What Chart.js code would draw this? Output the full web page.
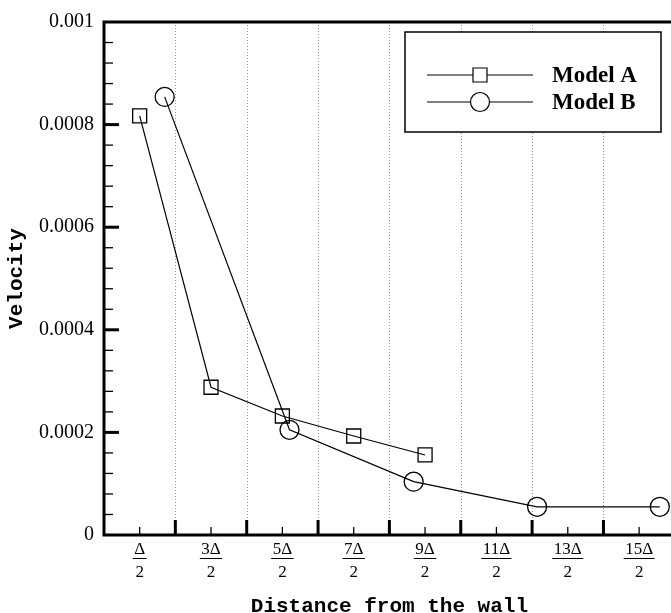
<!DOCTYPE html>
<html><head><meta charset="utf-8">
<script src="https://cdn.jsdelivr.net/npm/chart.js@4/dist/chart.umd.min.js"></script>
<style>html,body{margin:0;padding:0;overflow:hidden;background:#fff;width:671px;height:613px}</style>
</head><body>
<canvas id="c" width="686" height="613" style="display:block;width:686px;height:613px"></canvas>
<script>
// ---- data ----
const seriesNames = ['Model A', 'Model B'];
const modelAX = [0.5, 1.5, 2.5, 3.5, 4.5];
const modelAY = [0.000817, 0.000288, 0.000232, 0.000193, 0.000156];
const modelBX = [0.85, 2.6, 4.34, 6.07, 7.79];
const modelBY = [0.000854, 0.000205, 0.000104, 0.000055, 0.000055];
const xTickValues = [0.5, 1.5, 2.5, 3.5, 4.5, 5.5, 6.5, 7.5];
const xTickNumerators = ['Δ', '3Δ', '5Δ', '7Δ', '9Δ', '11Δ', '13Δ', '15Δ'];
const xTickDenominator = '2';
const yTickValues = [0, 0.0002, 0.0004, 0.0006, 0.0008, 0.001];
const yTickLabels = ['0', '0.0002', '0.0004', '0.0006', '0.0008', '0.001'];
const xTitle = 'Distance from the wall';
const yTitle = 'Velocity';

const SERIF = '"Liberation Serif", "Times New Roman", serif';
const MONO = '"Liberation Mono", "Courier New", monospace';
const xTickFont = {family: SERIF, size: 17, lineHeight: '23px'};

const toPts = (xs, ys) => xs.map((x, i) => ({x: x, y: ys[i]}));

const decor = {
  id: 'decor',
  beforeDatasetsDraw(chart) {
    const {ctx, chartArea: a, scales: {x}} = chart;
    ctx.save();
    ctx.strokeStyle = '#9a9a9a';
    ctx.lineWidth = 1;
    ctx.setLineDash([1, 2]);
    for (let v = 1; v <= 7; v++) {
      const px = Math.round(x.getPixelForValue(v)) + 0.5;
      ctx.beginPath(); ctx.moveTo(px, a.top); ctx.lineTo(px, a.bottom); ctx.stroke();
    }
    ctx.restore();
  },
  afterDraw(chart) {
    const {ctx, chartArea: a, scales: {x, y}} = chart;
    ctx.save();
    ctx.strokeStyle = '#000';
    // inward ticks on x
    for (let i = 1; i < 16; i++) {
      const v = i / 2;
      const px = x.getPixelForValue(v);
      const major = (i % 2 === 0);
      ctx.lineWidth = major ? 3 : 1.3;
      ctx.beginPath(); ctx.moveTo(px, a.bottom); ctx.lineTo(px, a.bottom - (major ? 15 : 8)); ctx.stroke();
    }
    // inward ticks on y
    for (let i = 1; i < 25; i++) {
      const v = i * 0.00004;
      const py = y.getPixelForValue(v);
      const major = (i % 5 === 0);
      ctx.lineWidth = major ? 3 : 1.3;
      ctx.beginPath(); ctx.moveTo(a.left, py); ctx.lineTo(a.left + (major ? 15 : 9), py); ctx.stroke();
    }
    // frame
    ctx.lineWidth = 3;
    ctx.beginPath();
    ctx.moveTo(a.left, a.top); ctx.lineTo(a.right, a.top);
    ctx.moveTo(a.left, a.top - 1.5); ctx.lineTo(a.left, a.bottom + 1.5);
    ctx.moveTo(a.left, a.bottom); ctx.lineTo(a.right, a.bottom);
    ctx.moveTo(a.right, a.top); ctx.lineTo(a.right, a.bottom);
    ctx.stroke();
    // fraction bars
    ctx.font = '17px ' + SERIF;
    ctx.lineWidth = 1;
    xTickValues.forEach((v, i) => {
      const px = x.getPixelForValue(v);
      const w = Math.max(ctx.measureText(xTickNumerators[i]).width, ctx.measureText(xTickDenominator).width) + 3;
      const by = a.bottom + 23.5;
      ctx.beginPath(); ctx.moveTo(px - w / 2, by); ctx.lineTo(px + w / 2, by); ctx.stroke();
    });
    // legend
    const bx = a.left + 301, byy = a.top + 10, bw = 256, bh = 100;
    ctx.fillStyle = '#fff';
    ctx.fillRect(bx, byy, bw, bh);
    ctx.lineWidth = 1.5;
    ctx.strokeRect(bx, byy, bw, bh);
    const rows = [byy + 43, byy + 70];
    ctx.lineWidth = 1.2;
    ctx.font = 'bold 23px ' + SERIF;
    ctx.textBaseline = 'middle';
    ctx.fillStyle = '#000';
    chart.data.datasets.forEach((ds, i) => {
      const ly = rows[i];
      ctx.beginPath(); ctx.moveTo(bx + 22, ly); ctx.lineTo(bx + 128, ly); ctx.stroke();
      const mx = bx + 75;
      ctx.beginPath();
      if (i === 0) { ctx.rect(mx - 7, ly - 7, 14, 14); }
      else { ctx.arc(mx, ly, 9.5, 0, Math.PI * 2); }
      ctx.fillStyle = '#fff'; ctx.fill(); ctx.stroke();
      ctx.fillStyle = '#000';
      ctx.fillText(ds.label, bx + 147, ly + 1);
    });
    ctx.restore();
  }
};

new Chart(document.getElementById('c'), {
  type: 'line',
  data: {
    datasets: [
      {label: seriesNames[0], data: toPts(modelAX, modelAY), pointStyle: 'rect', pointRadius: 9.9},
      {label: seriesNames[1], data: toPts(modelBX, modelBY), pointStyle: 'circle', pointRadius: 9.5}
    ]
  },
  options: {
    responsive: false,
    devicePixelRatio: 1,
    animation: false,
    layout: {padding: {top: 17, right: 0, left: 0, bottom: 0}},
    elements: {
      line: {borderColor: '#000', borderWidth: 1.2, tension: 0, fill: false},
      point: {backgroundColor: 'rgba(0,0,0,0)', borderColor: '#000', borderWidth: 1.3, hoverRadius: 9.5}
    },
    plugins: {legend: {display: false}, tooltip: {enabled: false}},
    scales: {
      x: {
        type: 'linear', min: 0, max: 8,
        afterBuildTicks(s) { s.ticks = xTickValues.map(v => ({value: v})); },
        afterFit(s) { s.height = 78; },
        grid: {display: false, drawTicks: false},
        border: {display: false},
        ticks: {
          autoSkip: false, maxRotation: 0, minRotation: 0, padding: 3, color: '#000',
          font: xTickFont,
          callback(v) {
            const i = xTickValues.findIndex(t => Math.abs(t - v) < 1e-9);
            return i >= 0 ? [xTickNumerators[i], xTickDenominator] : '';
          }
        },
        title: {display: true, text: xTitle, color: '#000',
          font: {family: MONO, weight: 'bold', size: 21, lineHeight: 1}, padding: {top: 0, bottom: -4}}
      },
      y: {
        type: 'linear', min: 0, max: 0.001,
        afterBuildTicks(s) { s.ticks = yTickValues.map(v => ({value: v})); },
        afterFit(s) { s.width = 104; },
        grid: {display: false, drawTicks: false},
        border: {display: false},
        ticks: {
          padding: 10, color: '#000', font: {family: SERIF, size: 20},
          callback(v) {
            const i = yTickValues.findIndex(t => Math.abs(t - v) < 1e-12);
            return i >= 0 ? yTickLabels[i] : '';
          }
        },
        title: {display: true, text: yTitle, color: '#000',
          font: {family: MONO, weight: 'bold', size: 21, lineHeight: 1}, padding: {top: 6, bottom: 0}}
      }
    }
  },
  plugins: [decor]
});
</script>
</body></html>
